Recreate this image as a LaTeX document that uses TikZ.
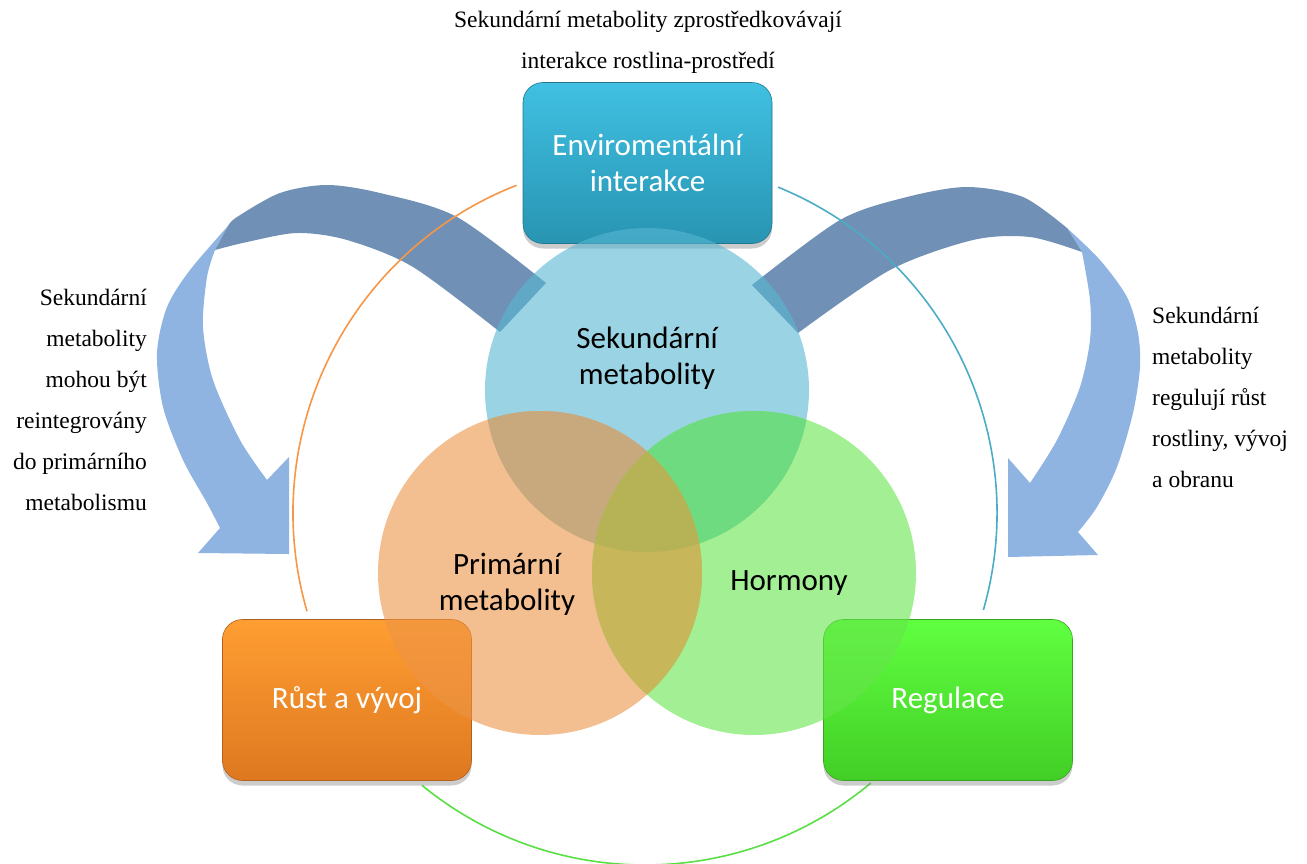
\documentclass[tikz,border=0pt]{standalone}
\usepackage{fontspec}
\setmainfont{Liberation Serif}
\newfontfamily\calibfont{Carlito}
\usetikzlibrary{shadows}
\definecolor{arrdark}{RGB}{112,145,181}
\definecolor{arrlight}{RGB}{143,180,226}
\definecolor{lnorange}{RGB}{247,150,70}
\definecolor{lnteal}{RGB}{75,172,198}
\definecolor{lngreen}{RGB}{90,222,70}
\definecolor{cblue}{RGB}{87,183,210}
\definecolor{corange}{RGB}{237,148,70}
\definecolor{cgreen}{RGB}{102,228,75}
\definecolor{ovbo}{RGB}{200,169,126}
\definecolor{ovbg}{RGB}{111,219,128}
\definecolor{ovog}{RGB}{199,182,90}
\definecolor{ovtri}{RGB}{182,178,86}
\definecolor{envtop}{RGB}{64,192,226}
\definecolor{envbot}{RGB}{40,148,178}
\definecolor{grtop}{RGB}{255,158,50}
\definecolor{grbot}{RGB}{222,120,32}
\definecolor{regtop}{RGB}{96,255,64}
\definecolor{regbot}{RGB}{66,206,38}
\begin{document}
\begin{tikzpicture}[x=1pt,y=-1pt,
  box/.style={rounded corners=20pt, minimum width=249pt, minimum height=161pt,
    inner sep=0pt, align=center, text=white,
    font=\calibfont\fontsize{31}{36}\selectfont,
    drop shadow={opacity=0.4, shadow xshift=0pt, shadow yshift=-5pt}},
  circtext/.style={font=\calibfont\fontsize{31}{36}\selectfont, align=center, inner sep=0pt},
  note/.style={font=\fontsize{23.5}{41}\selectfont, inner sep=0pt},
  ring/.style={line width=1.6pt},
  circfill/.style={fill opacity=0.6}
]
\useasboundingbox (0,0) rectangle (1307,863);

% curved arrows
\fill[arrlight] plot[smooth] coordinates {(228,226) (190,270) (167,307) (157,353) (163,407) (183,460) (207,503) (220,528)}
  -- (198,553) -- (289,554) -- (289,457) -- (267,480)
  -- plot[smooth] coordinates {(267,480) (240,440) (213,380) (203,327) (207,277) (215,250)} -- cycle;
\fill[arrdark] plot[smooth] coordinates {(546,283) (457,217) (380,193) (327,185) (280,193) (237,217) (228,226)}
  -- plot[smooth] coordinates {(215,250) (247,242) (297,233) (347,240) (413,267) (500,332)} -- cycle;

\fill[arrlight] plot[smooth] coordinates {(1067,228) (1100,260) (1127,297) (1138,333) (1140,367) (1133,413) (1117,467) (1097,507) (1078,532)}
  -- (1098,555) -- (1008,557) -- (1008,458) -- (1030,483)
  -- plot[smooth] coordinates {(1030,483) (1057,440) (1080,387) (1090,340) (1090,300) (1082,252)} -- cycle;
\fill[arrdark] plot[smooth] coordinates {(752,285) (840,220) (907,197) (967,187) (1023,197) (1067,228)}
  -- plot[smooth] coordinates {(1082,252) (1030,237) (973,240) (890,270) (798,333)} -- cycle;

% big ring arcs
\coordinate (o) at (645,513);
\draw[ring, lnorange] (o) ++(111.4:352pt) arc[start angle=111.4, end angle=196.2, radius=352pt];
\draw[ring, lnteal] (o) ++(67.8:352pt) arc[start angle=67.8, end angle=-16, radius=352pt];
\draw[ring, lngreen] (o) ++(230.7:352pt) arc[start angle=230.7, end angle=309.9, radius=352pt];

% boxes
\node[box, top color=envtop, bottom color=envbot, draw=envbot!80!black, line width=0.6pt] (env) at (647.5,163) {Enviromentální\\interakce};
\node[box, top color=grtop, bottom color=grbot, draw=grbot!80!black, line width=0.6pt] (grow) at (347,700) {Růst a vývoj};
\node[box, top color=regtop, bottom color=regbot, draw=regbot!80!black, line width=0.6pt] (reg) at (948,700) {Regulace};

% circles
\fill[cblue, circfill] (647,390) circle[radius=162pt];
\fill[corange, circfill] (540,573) circle[radius=162pt];
\fill[cgreen, circfill] (754,573) circle[radius=162pt];
\begin{scope}
  \clip (647,390) circle[radius=162pt];
  \fill[ovbo] (540,573) circle[radius=162pt];
  \fill[ovbg] (754,573) circle[radius=162pt];
\end{scope}
\begin{scope}
  \clip (540,573) circle[radius=162pt];
  \fill[ovog] (754,573) circle[radius=162pt];
  \clip (647,390) circle[radius=162pt];
  \fill[ovtri] (754,573) circle[radius=162pt];
\end{scope}

\node[circtext] (sek) at (647,358) {Sekundární\\metabolity};
\node[circtext] (prim) at (507,584) {Primární\\metabolity};
\node[circtext] (horm) at (789,583) {Hormony};

% notes
\node[note, align=center] (top) at (648,42) {Sekundární metabolity zprostředkovávají\\interakce rostlina-prostředí};
\node[note, align=right, anchor=east] (left) at (147,400) {Sekundární\\metabolity\\mohou být\\reintegrovány\\do primárního\\metabolismu};
\node[note, align=left, anchor=west] (right) at (1152,397) {Sekundární\\metabolity\\regulují růst\\rostliny, vývoj\\a obranu};
\end{tikzpicture}
\end{document}
